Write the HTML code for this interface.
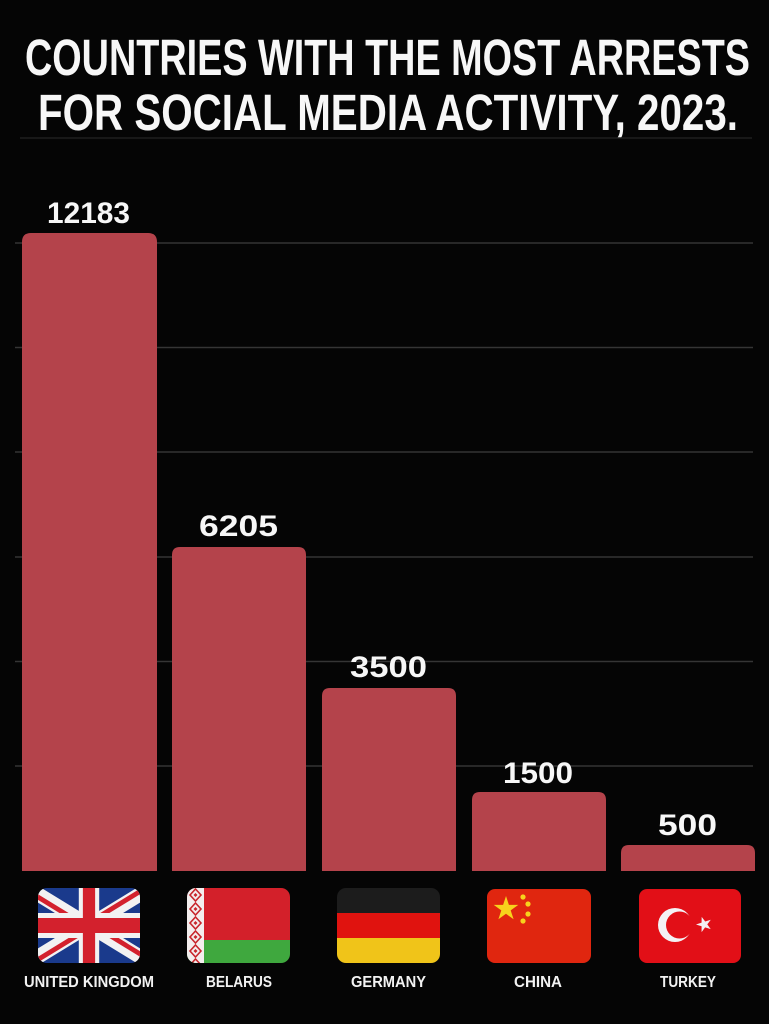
<!DOCTYPE html>
<html>
<head>
<meta charset="utf-8">
<style>
html,body{margin:0;padding:0;background:#050505;}
svg{display:block;}
</style>
</head>
<body>
<svg width="769" height="1024" viewBox="0 0 769 1024" xmlns="http://www.w3.org/2000/svg">
<defs>
<clipPath id="ukc"><rect x="38" y="888" width="102" height="75" rx="9"/></clipPath>
<clipPath id="byc"><rect x="187" y="888" width="103" height="75" rx="9"/></clipPath>
<clipPath id="dec"><rect x="337" y="888" width="103" height="75" rx="9"/></clipPath>
<pattern id="orn" x="187" y="888" width="17" height="14" patternUnits="userSpaceOnUse">
<rect width="17" height="14" fill="#f3eeee"/>
<path d="M8.5,1 L14,7 L8.5,13 L3,7 Z" fill="none" stroke="#c8262c" stroke-width="1.6"/>
<path d="M8.5,5 L10.5,7 L8.5,9 L6.5,7 Z" fill="#c8262c"/>
</pattern>
</defs>
<rect width="769" height="1024" fill="#050505"/>

<!-- title -->
<g fill="#f7f7f7" font-family="Liberation Sans, sans-serif" font-weight="bold" font-size="51">
<text x="25" y="75" textLength="725" lengthAdjust="spacingAndGlyphs">COUNTRIES WITH THE MOST ARRESTS</text>
<text x="38" y="130" textLength="700" lengthAdjust="spacingAndGlyphs">FOR SOCIAL MEDIA ACTIVITY, 2023.</text>
</g>

<!-- gridlines -->
<g stroke="#353535" stroke-width="1.5">
<line x1="20" y1="138" x2="752" y2="138" stroke="#1e1e1e"/>
<line x1="15" y1="243" x2="753" y2="243"/>
<line x1="15" y1="347.5" x2="753" y2="347.5"/>
<line x1="15" y1="452" x2="753" y2="452"/>
<line x1="15" y1="557" x2="753" y2="557"/>
<line x1="15" y1="661.5" x2="753" y2="661.5"/>
<line x1="15" y1="766" x2="753" y2="766"/>
</g>

<!-- bars -->
<g fill="#b4434b">
<path d="M22,871 V242 Q22,233 31,233 H148 Q157,233 157,242 V871 Z"/>
<path d="M172,871 V555 Q172,547 180,547 H298 Q306,547 306,555 V871 Z"/>
<path d="M322,871 V696 Q322,688 330,688 H448 Q456,688 456,696 V871 Z"/>
<path d="M472,871 V800 Q472,792 480,792 H598 Q606,792 606,800 V871 Z"/>
<path d="M621,871 V853 Q621,845 629,845 H747 Q755,845 755,853 V871 Z"/>
</g>

<!-- values -->
<g fill="#f7f7f7" font-family="Liberation Sans, sans-serif" font-weight="bold" font-size="30">
<text x="47" y="223" textLength="83" lengthAdjust="spacingAndGlyphs">12183</text>
<text x="199" y="536" textLength="79" lengthAdjust="spacingAndGlyphs">6205</text>
<text x="350" y="677" textLength="77" lengthAdjust="spacingAndGlyphs">3500</text>
<text x="503" y="783" textLength="70" lengthAdjust="spacingAndGlyphs">1500</text>
<text x="658" y="835" textLength="59" lengthAdjust="spacingAndGlyphs">500</text>
</g>

<!-- UK flag -->
<g clip-path="url(#ukc)">
<svg x="38" y="888" width="102" height="75" viewBox="5 0 50 30" preserveAspectRatio="none">
<clipPath id="ukt"><path d="M30,15 h30 v15 z v15 h-30 z h-30 v-15 z v-15 h30 z"/></clipPath>
<rect x="0" y="0" width="60" height="30" fill="#1a3a8c"/>
<path d="M0,0 L60,30 M60,0 L0,30" stroke="#f2f2f2" stroke-width="6"/>
<path d="M0,0 L60,30 M60,0 L0,30" clip-path="url(#ukt)" stroke="#d3212d" stroke-width="4"/>
<path d="M30,0 v30 M0,15 h60" stroke="#f2f2f2" stroke-width="10"/>
<path d="M30,0 v30 M0,15 h60" stroke="#d3212d" stroke-width="6"/>
</svg>
</g>

<!-- Belarus flag -->
<g clip-path="url(#byc)">
<rect x="187" y="888" width="103" height="52" fill="#d3202a"/>
<rect x="187" y="940" width="103" height="23" fill="#3fa83e"/>
<rect x="187" y="888" width="17" height="75" fill="url(#orn)"/>
</g>

<!-- Germany flag -->
<g clip-path="url(#dec)">
<rect x="337" y="888" width="103" height="25" fill="#1c1c1c"/>
<rect x="337" y="913" width="103" height="25" fill="#e0130f"/>
<rect x="337" y="938" width="103" height="25" fill="#f0c419"/>
</g>

<!-- China flag -->
<rect x="487" y="889" width="104" height="74" rx="8" fill="#e0260f"/>
<g fill="#f7d21c">
<polygon points="506,896 508.9,904.9 518.3,904.9 510.7,910.4 513.6,919.3 506,913.8 498.4,919.3 501.3,910.4 493.7,904.9 503.1,904.9"/>
<circle cx="523" cy="897" r="2.6"/>
<circle cx="528" cy="904" r="2.6"/>
<circle cx="528" cy="914" r="2.6"/>
<circle cx="523" cy="921" r="2.6"/>
</g>

<!-- Turkey flag -->
<rect x="639" y="889" width="102" height="74" rx="8" fill="#e20f17"/>
<circle cx="675" cy="925" r="17" fill="#f4f1f4"/>
<circle cx="679.5" cy="925" r="13.5" fill="#e20f17"/>
<polygon points="704,916.5 705.9,922 711.8,922 707,925.4 708.8,931 704,927.6 699.2,931 701,925.4 696.2,922 702.1,922" fill="#f4f1f4" transform="rotate(-18 704 924)"/>

<!-- country labels -->
<g fill="#f2f2f2" font-family="Liberation Sans, sans-serif" font-weight="bold" font-size="16">
<text x="24" y="987" textLength="130" lengthAdjust="spacingAndGlyphs">UNITED KINGDOM</text>
<text x="206" y="987" textLength="66" lengthAdjust="spacingAndGlyphs">BELARUS</text>
<text x="351" y="987" textLength="75" lengthAdjust="spacingAndGlyphs">GERMANY</text>
<text x="514" y="987" textLength="48" lengthAdjust="spacingAndGlyphs">CHINA</text>
<text x="660" y="987" textLength="56" lengthAdjust="spacingAndGlyphs">TURKEY</text>
</g>
</svg>
</body>
</html>
